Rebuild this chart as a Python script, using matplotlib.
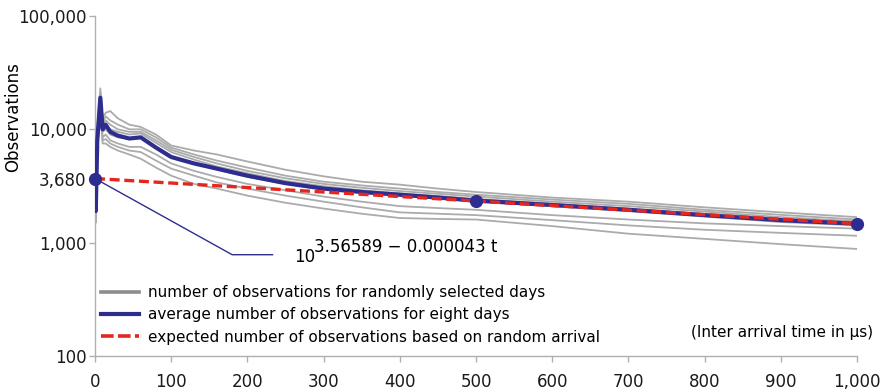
import matplotlib
matplotlib.use("Agg")
import matplotlib.pyplot as plt
from matplotlib.lines import Line2D
from matplotlib.ticker import FixedLocator, NullLocator

plt.rcParams['font.family'] = ['DejaVu Sans']

# ---- data ----
t = [0, 1, 3, 7, 10, 14, 20, 30, 45, 60, 80, 100, 130, 160, 200, 250, 300,
     350, 400, 450, 500, 600, 700, 800, 900, 1000]

avg = [3680, 1900, 8000, 19000, 10000, 11000, 9500, 8800, 8300, 8500, 6900,
       5700, 5000, 4500, 3900, 3350, 3000, 2800, 2650, 2500, 2350, 2150, 1950,
       1750, 1580, 1470]

gray_days = [
    [3680, 2200, 10000, 23000, 12500, 14000, 14500, 12500, 11000, 10500, 9000,
     7200, 6500, 6000, 5200, 4400, 3850, 3450, 3250, 3000, 2800, 2500, 2300,
     2050, 1850, 1680],
    [3680, 2100, 9500, 21000, 11500, 13000, 12000, 11000, 10000, 10000, 8500,
     6900, 6000, 5300, 4600, 3900, 3450, 3200, 3000, 2800, 2650, 2400, 2200,
     1950, 1760, 1600],
    [3680, 2000, 9000, 20000, 11000, 12000, 11000, 10000, 9500, 9500, 8000,
     6600, 5700, 5000, 4300, 3700, 3300, 3050, 2850, 2700, 2550, 2300, 2100,
     1880, 1680, 1540],
    [3680, 1900, 8500, 19000, 10500, 11000, 10000, 9500, 9000, 9200, 7600,
     6300, 5400, 4700, 4100, 3500, 3150, 2900, 2720, 2580, 2430, 2200, 2000,
     1780, 1600, 1480],
    [3680, 1800, 8000, 18000, 9500, 10000, 9000, 8500, 8200, 8400, 7000,
     5800, 5000, 4400, 3800, 3300, 2950, 2750, 2600, 2450, 2300, 2100, 1900,
     1700, 1520, 1420],
    [3680, 1700, 7500, 17000, 8500, 9000, 8000, 7500, 7000, 7000, 6000,
     5000, 4300, 3800, 3300, 2900, 2550, 2300, 2100, 2020, 1950, 1750, 1600,
     1480, 1400, 1330],
    [3680, 1600, 7000, 16000, 8000, 8200, 7500, 7000, 6500, 6300, 5300,
     4500, 3900, 3400, 3000, 2600, 2300, 2050, 1850, 1800, 1750, 1580, 1420,
     1300, 1220, 1150],
    [3680, 1500, 6500, 15000, 7500, 7500, 7000, 6500, 6000, 5500, 4600,
     3900, 3300, 3000, 2600, 2250, 2000, 1800, 1650, 1620, 1600, 1400, 1200,
     1080, 970, 880],
]

expected_t = [0, 500, 1000]
expected = [3680, 2330, 1470]

yticks = [100, 1000, 3680, 10000, 100000]
ytick_labels = ["100", "1,000", "3,680", "10,000", "100,000"]
xticks = [0, 100, 200, 300, 400, 500, 600, 700, 800, 900, 1000]
xtick_labels = ["0", "100", "200", "300", "400", "500", "600", "700", "800",
                "900", "1,000"]

# ---- styling ----
W, H = 892, 391
fig = plt.figure(figsize=(W / 100, H / 100), dpi=100)
ax = fig.add_axes([95 / W, 1 - 356 / H, (857 - 95) / W, (356 - 16) / H])

GRAY = "#ababab"
BLUE = "#2e2d8f"
RED = "#e5261f"

for g in gray_days:
    ax.plot(t, g, color=GRAY, lw=1.3, zorder=2)
ax.plot(t, avg, color=BLUE, lw=3.0, zorder=3, solid_joinstyle='round')
ax.plot(expected_t, expected, color=RED, lw=2.4, ls=(0, (3, 1.4)), zorder=4)
ax.plot(expected_t, expected, ls='none', marker='o', ms=8.5, color=BLUE,
        zorder=5, clip_on=False)

ax.set_yscale('log')
ax.set_xlim(0, 1000)
ax.set_ylim(100, 100000)
ax.yaxis.set_major_locator(FixedLocator(yticks))
ax.yaxis.set_minor_locator(NullLocator())
ax.set_yticklabels(ytick_labels)
ax.set_xticks(xticks)
ax.set_xticklabels(xtick_labels)

for s in ['top', 'right']:
    ax.spines[s].set_visible(False)
for s in ['left', 'bottom']:
    ax.spines[s].set_color("#b0b0b0")
    ax.spines[s].set_linewidth(1.0)
ax.tick_params(axis='both', colors="#b0b0b0", labelcolor="#1a1a1a",
               labelsize=12, length=4, width=1)
ax.tick_params(axis='y', pad=2)
ax.tick_params(axis='x', pad=8)
ax.set_ylabel("Observations", fontsize=12)
ax.yaxis.set_label_coords(-73 / (857 - 95), 1 - (117 - 16) / (356 - 16))

# annotation connector
ax.plot([0, 180, 233], [3680, 783, 783], color=BLUE, lw=1.0, zorder=3)
fig.text(294 / W, 1 - 262 / H, "10", fontsize=12, va='baseline', ha='left')
fig.text(314 / W, 1 - 252 / H, "3.56589 \u2212 0.000043 t", fontsize=12,
         va='baseline', ha='left')

# legend
handles = [Line2D([], [], color="#8c8c8c", lw=2.6),
           Line2D([], [], color=BLUE, lw=3.0),
           Line2D([], [], color=RED, lw=2.6, ls=(0, (3.5, 1.2)))]
labels = ["number of observations for randomly selected days",
          "average number of observations for eight days",
          "expected number of observations based on random arrival"]
leg = fig.legend(handles, labels, loc='upper left',
                 bbox_to_anchor=(101 / W, 1 - 285 / H), frameon=False,
                 fontsize=11, borderpad=0, borderaxespad=0,
                 handlelength=2.5, handletextpad=0.55, labelspacing=0.48)

fig.text(873 / W, 1 - 332 / H, "(Inter arrival time in \u03bcs)", fontsize=11,
         ha='right', va='center')

fig.savefig("out.png", dpi=100)
